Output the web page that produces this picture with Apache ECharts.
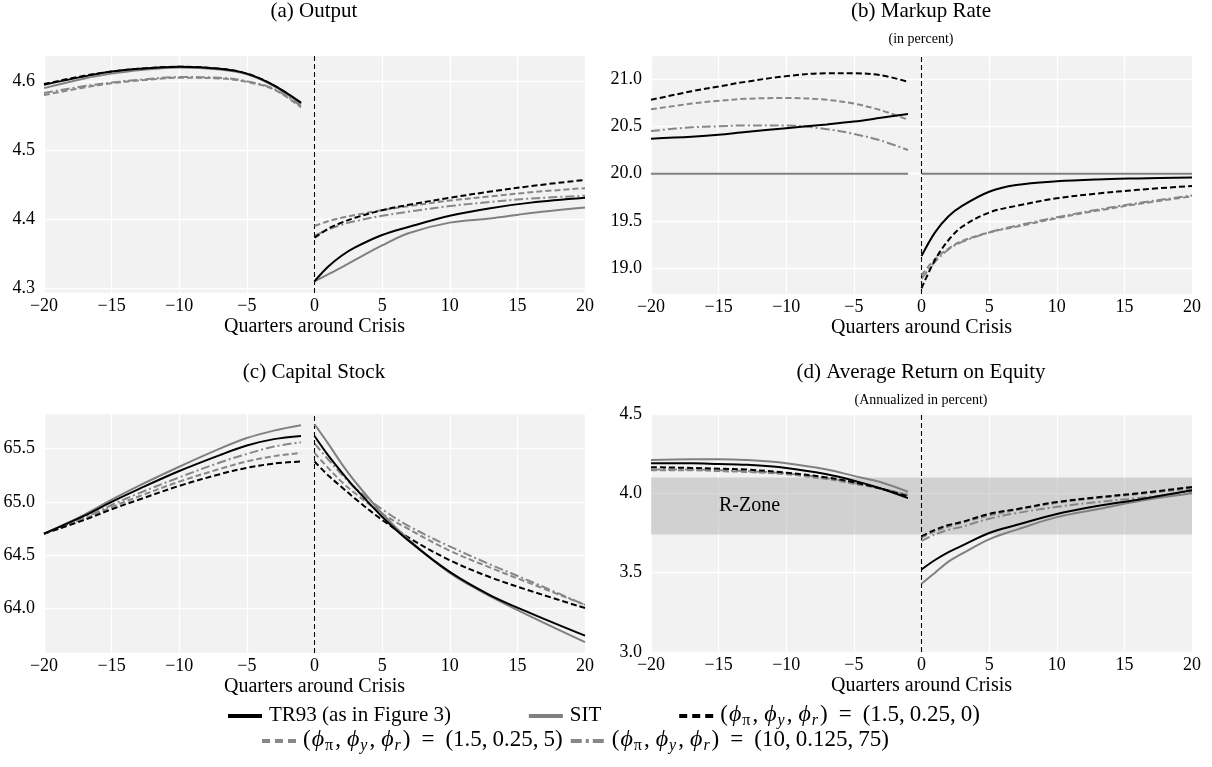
<!DOCTYPE html>
<html><head><meta charset="utf-8">
<script src="https://cdn.jsdelivr.net/npm/echarts@6/dist/echarts.min.js"></script>
<style>html,body{margin:0;padding:0;background:#fff}#c{width:1212px;height:767px}</style>
</head><body><div id="c"></div>
<script>
// ---------------- DATA ----------------
const quartersPre  = [-20, -17, -15, -13, -10, -7, -5, -3, -1];
const quartersPost = [0, 1, 2, 3, 5, 7, 10, 13, 16, 20];

const scenarioNames = ['TR93 (as in Figure 3)', 'SIT', '(ϕπ, ϕy, ϕr) = (1.5, 0.25, 0)', '(ϕπ, ϕy, ϕr) = (1.5, 0.25, 5)', '(ϕπ, ϕy, ϕr) = (10, 0.125, 75)'];
const ruleParams = [null, null, ['1.5', '0.25', '0'], ['1.5', '0.25', '5'], ['10', '0.125', '75']];
const panelTitles = ['(a) Output', '(b) Markup Rate', '(c) Capital Stock', '(d) Average Return on Equity'];
const panelSubtitles = ['', '(in percent)', '', '(Annualized in percent)'];
const xAxisTitle = 'Quarters around Crisis';
const rZoneBand = [3.74, 4.10];
const rZoneLabel = 'R-Zone';

// (a) Output
const outTR93Pre  = [4.595, 4.607, 4.614, 4.618, 4.621, 4.618, 4.611, 4.594, 4.569];
const outTR93Post = [4.310, 4.331, 4.347, 4.359, 4.377, 4.389, 4.405, 4.416, 4.424, 4.431];
const outSITPre   = [4.590, 4.604, 4.611, 4.616, 4.620, 4.617, 4.610, 4.593, 4.567];
const outSITPost  = [4.310, 4.320, 4.330, 4.341, 4.362, 4.380, 4.395, 4.401, 4.409, 4.417];
const outR0Pre    = [4.596, 4.608, 4.614, 4.618, 4.621, 4.618, 4.611, 4.594, 4.568];
const outR0Post   = [4.373, 4.386, 4.395, 4.402, 4.413, 4.421, 4.431, 4.440, 4.448, 4.457];
const outR5Pre    = [4.580, 4.591, 4.597, 4.601, 4.605, 4.604, 4.599, 4.588, 4.562];
const outR5Post   = [4.390, 4.397, 4.402, 4.406, 4.413, 4.419, 4.427, 4.433, 4.439, 4.445];
const outR75Pre   = [4.583, 4.593, 4.598, 4.602, 4.606, 4.605, 4.600, 4.589, 4.564];
const outR75Post  = [4.376, 4.385, 4.392, 4.397, 4.405, 4.411, 4.419, 4.425, 4.430, 4.434];

// (b) Markup rate
const mkTR93Pre  = [20.37, 20.39, 20.41, 20.44, 20.48, 20.52, 20.55, 20.59, 20.63];
const mkTR93Post = [19.13, 19.38, 19.55, 19.66, 19.81, 19.88, 19.92, 19.94, 19.95, 19.96];
const mkSITPre   = [20.0, 20.0, 20.0, 20.0, 20.0, 20.0, 20.0, 20.0, 20.0];
const mkSITPost  = [20.0, 20.0, 20.0, 20.0, 20.0, 20.0, 20.0, 20.0, 20.0, 20.0];
const mkR0Pre    = [20.78, 20.87, 20.92, 20.97, 21.03, 21.06, 21.06, 21.04, 20.97];
const mkR0Post   = [18.79, 19.09, 19.30, 19.44, 19.59, 19.66, 19.74, 19.79, 19.83, 19.87];
const mkR5Pre    = [20.68, 20.74, 20.77, 20.79, 20.80, 20.78, 20.74, 20.67, 20.57];
const mkR5Post   = [18.93, 19.10, 19.21, 19.29, 19.38, 19.44, 19.53, 19.61, 19.68, 19.76];
const mkR75Pre   = [20.45, 20.49, 20.50, 20.51, 20.51, 20.47, 20.42, 20.35, 20.25];
const mkR75Post  = [18.89, 19.07, 19.20, 19.28, 19.38, 19.45, 19.54, 19.62, 19.69, 19.77];

// (c) Capital stock
const kTR93Pre  = [64.70, 64.87, 65.00, 65.12, 65.29, 65.44, 65.53, 65.59, 65.62];
const kTR93Post = [65.62, 65.44, 65.28, 65.13, 64.86, 64.63, 64.34, 64.12, 63.95, 63.74];
const kSITPre   = [64.70, 64.88, 65.02, 65.15, 65.33, 65.50, 65.60, 65.67, 65.72];
const kSITPost  = [65.73, 65.55, 65.36, 65.19, 64.89, 64.64, 64.33, 64.11, 63.92, 63.68];
const kR0Pre    = [64.70, 64.83, 64.93, 65.02, 65.15, 65.26, 65.32, 65.36, 65.38];
const kR0Post   = [65.38, 65.25, 65.14, 65.03, 64.83, 64.66, 64.45, 64.29, 64.16, 64.00];
const kR5Pre    = [64.70, 64.84, 64.95, 65.05, 65.19, 65.31, 65.38, 65.43, 65.46];
const kR5Post   = [65.46, 65.32, 65.19, 65.08, 64.89, 64.74, 64.54, 64.38, 64.23, 64.03];
const kR75Pre   = [64.70, 64.85, 64.97, 65.08, 65.23, 65.37, 65.45, 65.52, 65.56];
const kR75Post  = [65.55, 65.40, 65.26, 65.13, 64.93, 64.77, 64.58, 64.41, 64.25, 64.03];

// (d) Average return on equity
const roeTR93Pre  = [4.19, 4.19, 4.185, 4.18, 4.16, 4.12, 4.08, 4.03, 3.97];
const roeTR93Post = [3.52, 3.58, 3.63, 3.67, 3.75, 3.80, 3.87, 3.92, 3.96, 4.02];
const roeSITPre   = [4.21, 4.215, 4.215, 4.21, 4.19, 4.15, 4.11, 4.07, 4.01];
const roeSITPost  = [3.43, 3.50, 3.57, 3.62, 3.71, 3.77, 3.85, 3.90, 3.95, 4.00];
const roeR0Pre    = [4.165, 4.16, 4.155, 4.15, 4.13, 4.10, 4.07, 4.03, 3.98];
const roeR0Post   = [3.73, 3.77, 3.80, 3.82, 3.87, 3.90, 3.945, 3.975, 4.00, 4.04];
const roeR5Pre    = [4.145, 4.145, 4.14, 4.135, 4.12, 4.09, 4.06, 4.03, 3.99];
const roeR5Post   = [3.72, 3.76, 3.79, 3.815, 3.86, 3.895, 3.94, 3.97, 3.995, 4.03];
const roeR75Pre   = [4.15, 4.15, 4.145, 4.14, 4.125, 4.095, 4.065, 4.03, 3.99];
const roeR75Post  = [3.70, 3.74, 3.77, 3.79, 3.84, 3.875, 3.915, 3.945, 3.97, 4.01];

// ---------------- STYLE / LAYOUT ----------------
const FONT = '"Liberation Serif", "Times New Roman", serif';
const GRAY = '#878787';
const styles = [
  {color: '#000000', type: 'solid', width: 2},
  {color: '#808080', type: 'solid', width: 2},
  {color: '#000000', type: [6, 3], width: 2},
  {color: GRAY, type: [6, 3], width: 2},
  {color: GRAY, type: [9, 3, 2, 3], width: 2}
];
const panels = [
  {pre: [outTR93Pre, outSITPre, outR0Pre, outR5Pre, outR75Pre], post: [outTR93Post, outSITPost, outR0Post, outR5Post, outR75Post]},
  {pre: [mkTR93Pre, mkSITPre, mkR0Pre, mkR5Pre, mkR75Pre], post: [mkTR93Post, mkSITPost, mkR0Post, mkR5Post, mkR75Post]},
  {pre: [kTR93Pre, kSITPre, kR0Pre, kR5Pre, kR75Pre], post: [kTR93Post, kSITPost, kR0Post, kR5Post, kR75Post]},
  {pre: [roeTR93Pre, roeSITPre, roeR0Pre, roeR5Pre, roeR75Pre], post: [roeTR93Post, roeSITPost, roeR0Post, roeR5Post, roeR75Post]}
];
const grids = [
  {left: 44, top: 55, width: 541, height: 238},
  {left: 651, top: 55, width: 541, height: 239},
  {left: 44, top: 413, width: 541, height: 240},
  {left: 651, top: 414, width: 541, height: 238}
];
const yRanges = [
  {min: 4.293, max: 4.638, splitNumber: 3},
  {min: 18.73, max: 21.253, splitNumber: 5},
  {min: 63.577, max: 65.836, splitNumber: 5},
  {min: 3.0, max: 4.5, interval: 0.5}
];

function toPoints(pre, post) {
  const d = [];
  quartersPre.forEach((q, i) => d.push([q, pre[i]]));
  d.push([-0.5, '-']);
  quartersPost.forEach((q, i) => d.push([q, post[i]]));
  return d;
}
const minus = v => (v < 0 ? '\u2212' + (-v) : String(v));

const option = {
  animation: false,
  backgroundColor: '#ffffff',
  grid: grids.map(g => Object.assign({show: true, backgroundColor: '#f2f2f2', borderWidth: 0, containLabel: false}, g)),
  xAxis: grids.map((g, i) => ({
    type: 'value', gridIndex: i, min: -20, max: 20, interval: 5,
    axisLine: {show: false}, axisTick: {show: false},
    splitLine: {show: true, lineStyle: {color: '#ffffff', width: 1.3}},
    axisLabel: {formatter: minus, color: '#000', fontFamily: FONT, fontSize: 18, margin: 4},
    name: xAxisTitle, nameLocation: 'middle', nameGap: 24,
    nameTextStyle: {color: '#000', fontFamily: FONT, fontSize: 20, verticalAlign: 'top'}
  })),
  yAxis: grids.map((g, i) => Object.assign({
    type: 'value', gridIndex: i, scale: true,
    axisLine: {show: false}, axisTick: {show: false},
    splitLine: {show: true, lineStyle: {color: '#ffffff', width: 1.3}},
    axisLabel: {formatter: v => v.toFixed(1), color: '#000', fontFamily: FONT, fontSize: 18, margin: 9,
      showMinLabel: i === 3, showMaxLabel: i === 3}
  }, yRanges[i])),
  series: [],
  graphic: []
};

panels.forEach((p, pi) => {
  if (pi === 3) {
    option.series.push({
      type: 'line', xAxisIndex: pi, yAxisIndex: pi, data: [], z: 1, silent: true,
      markArea: {
        silent: true,
        itemStyle: {color: 'rgba(150,150,150,0.36)'},
        label: {show: true, position: 'insideLeft', distance: 68, color: '#000', fontFamily: FONT, fontSize: 20},
        data: [[{name: rZoneLabel, yAxis: rZoneBand[0]}, {yAxis: rZoneBand[1]}]]
      }
    });
  }
  scenarioNames.forEach((name, si) => {
    const s = styles[si];
    const ser = {
      name: name, type: 'line', xAxisIndex: pi, yAxisIndex: pi,
      data: toPoints(p.pre[si], p.post[si]),
      showSymbol: false, smooth: 0.35, connectNulls: false, z: 5 - si + 3,
      lineStyle: {color: s.color, type: s.type, width: s.width},
      itemStyle: {color: s.color}
    };
    if (si === 0) {
      ser.markLine = {
        silent: true, symbol: 'none', label: {show: false},
        lineStyle: {color: '#000', type: [5, 3], width: 1.1},
        data: [{xAxis: 0}]
      };
    }
    option.series.push(ser);
  });
});

// titles
const titlePos = [[314, 11], [921, 11], [314, 372], [921, 372]];
panelTitles.forEach((t, i) => {
  option.graphic.push({type: 'text', x: titlePos[i][0], y: titlePos[i][1],
    style: {text: t, fill: '#000', font: '21px ' + FONT, align: 'center', verticalAlign: 'middle'}});
  if (panelSubtitles[i]) {
    option.graphic.push({type: 'text', x: titlePos[i][0], y: titlePos[i][1] + 28,
      style: {text: panelSubtitles[i], fill: '#000', font: '14px ' + FONT, align: 'center', verticalAlign: 'middle'}});
  }
});

// legend (drawn as graphic to mimic the LaTeX legend)
const richDef = {
  t:  {size: 21, italic: false, color: '#000', pad: [0, 0, 0, 0]},
  b:  {size: 21, italic: false, color: '#9a4a06', pad: [0, 0, 0, 0]},
  n:  {size: 23, italic: false, color: '#000', pad: [0, 0, 0, 0]},
  c:  {size: 23, italic: false, color: '#000', pad: [0, 5, 0, 0]},
  m:  {size: 24, italic: true,  color: '#000', pad: [0, 0, 0, 1]},
  s:  {size: 16, italic: false, color: '#000', pad: [11, 2, 0, 1]},
  si: {size: 16, italic: true,  color: '#000', pad: [11, 2, 0, 1]},
  e:  {size: 23, italic: false, color: '#000', pad: [0, 11, 0, 11]}
};
const rich = {};
Object.keys(richDef).forEach(k => {
  const d = richDef[k];
  rich[k] = {fontFamily: FONT, fontSize: d.size, color: d.color, fontStyle: d.italic ? 'italic' : 'normal', padding: d.pad};
});
const ctx = document.createElement('canvas').getContext('2d');
function segWidth(segs) {
  let w = 0;
  segs.forEach(([k, txt]) => {
    const d = richDef[k];
    ctx.font = (d.italic ? 'italic ' : '') + d.size + 'px ' + FONT;
    w += ctx.measureText(txt).width + d.pad[1] + d.pad[3];
  });
  return w;
}
function phiSegs(vals) {
  const segs = [['n', '('], ['m', 'ϕ'], ['s', 'π'], ['c', ','], ['m', 'ϕ'], ['si', 'y'], ['c', ','], ['m', 'ϕ'], ['si', 'r'], ['n', ')'], ['e', '='], ['n', '(']];
  vals.forEach((v, i) => { segs.push(['n', v]); if (i < vals.length - 1) segs.push(['c', ',']); });
  segs.push(['n', ')']);
  return segs;
}
const legendSegs = [
  [['t', 'TR93 (as in Figure '], ['b', '3'], ['t', ')']],
  [['t', 'SIT']],
  phiSegs(ruleParams[2]),
  phiSegs(ruleParams[3]),
  phiSegs(ruleParams[4])
];
const legendDash = [null, null, [8, 5], [8, 5], [11, 4, 3, 4]];
const HANDLE = 34, HGAP = 7, IGAP = 8;
const legendRows = [{items: [0, 1, 2], x0: 228, x1: 980, y: 716}, {items: [3, 4], x0: 262, y: 741}];
legendRows.forEach(row => {
  const widths = row.items.map(i => HANDLE + HGAP + segWidth(legendSegs[i]));
  const gap = row.x1 ? (row.x1 - row.x0 - widths.reduce((a, b) => a + b, 0)) / (row.items.length - 1) : IGAP;
  let x = row.x0;
  row.items.forEach((i, j) => {
    option.graphic.push({type: 'line', shape: {x1: x, y1: row.y, x2: x + HANDLE, y2: row.y},
      style: {stroke: styles[i].color, lineWidth: 4, lineDash: legendDash[i] || null}});
    const txt = legendSegs[i].map(([k, t]) => '{' + k + '|' + t + '}').join('');
    option.graphic.push({type: 'text', x: x + HANDLE + HGAP, y: row.y - 1,
      style: {text: txt, rich: rich, fill: '#000', font: '21px ' + FONT, align: 'left', verticalAlign: 'middle'}});
    x += widths[j] + gap;
  });
});

const chart = echarts.init(document.getElementById('c'), null, {renderer: 'canvas'});
chart.setOption(option);
</script>
</body></html>
